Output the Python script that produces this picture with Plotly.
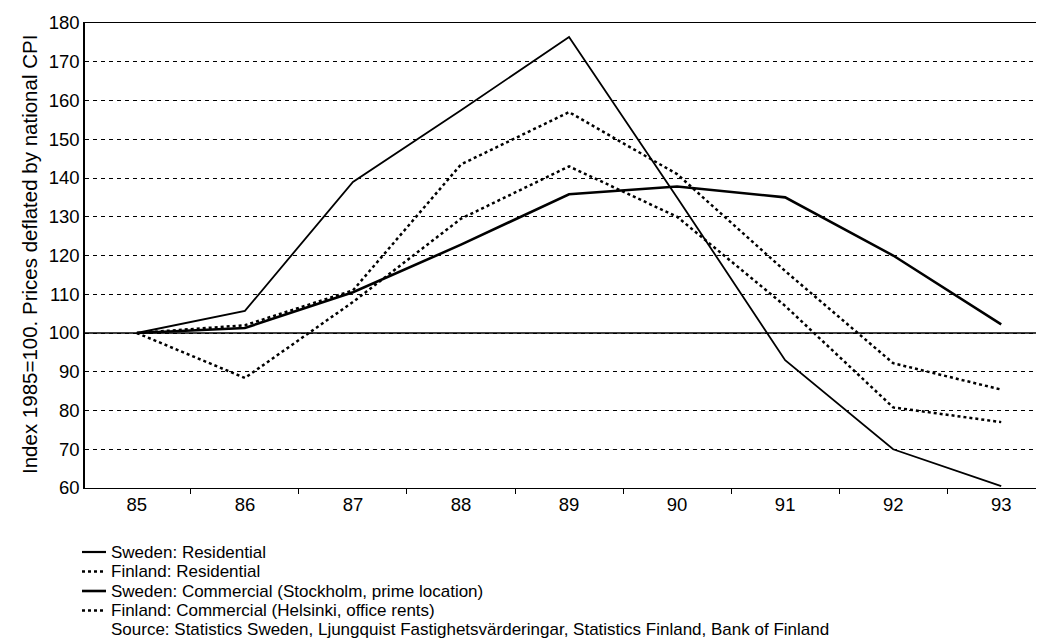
import plotly.graph_objects as go

years = ["85", "86", "87", "88", "89", "90", "91", "92", "93"]
sweden_residential = [100, 105.7, 139, 157.5, 176.4, 135, 93, 70, 60.5]
finland_residential = [100, 102, 111, 143.5, 157, 141, 116, 92.2, 85.4]
sweden_commercial = [100, 101.3, 110.5, 122.8, 135.8, 137.8, 135, 120, 102.2]
finland_commercial = [100, 88.4, 108, 129.5, 143, 130, 107, 80.8, 77]
y_ticks = list(range(60, 181, 10))
base_value = 100
series_names = [
    "Sweden: Residential",
    "Finland: Residential",
    "Sweden: Commercial (Stockholm, prime location)",
    "Finland: Commercial (Helsinki, office rents)",
]
source_text = ("Source: Statistics Sweden, Ljungquist Fastighetsvärderingar, "
               "Statistics Finland, Bank of Finland")
y_title = "Index 1985=100. Prices deflated by national CPI"

FONT = "Liberation Sans, Arial, Helvetica, sans-serif"

# layout geometry (pixels)
W, H = 1044, 638
L, R, T, B = 77, 0, 15, 158
PW, PH = W - L - R, H - T - B


def px_x(x):
    return (x - L) / PW


def px_y(y):
    return (H - B - y) / PH


fig = go.Figure()
styles = [("solid", 1.8), ("dot", 2.5), ("solid", 2.6), ("dot", 2.5)]
all_vals = [sweden_residential, finland_residential, sweden_commercial, finland_commercial]
for name, vals, (dash, w) in zip(series_names, all_vals, styles):
    fig.add_trace(go.Scatter(
        x=years, y=vals, mode="lines", name=name, showlegend=False,
        line=dict(color="black", width=w, dash=dash),
    ))

fig.update_layout(
    width=W, height=H,
    margin=dict(l=L, r=R, t=T, b=B, autoexpand=False),
    paper_bgcolor="white", plot_bgcolor="white",
    font=dict(family=FONT, color="black", size=18.5),
    showlegend=False,
)

fig.add_hline(y=base_value, line=dict(color="black", width=1.5), layer="below")

# manual legend
row_y = [544, 563.5, 583, 602.5]
for (dash, w), name, ry in zip(styles, series_names, row_y):
    fig.add_shape(
        type="line", xref="paper", yref="paper",
        x0=px_x(74), x1=px_x(98), y0=px_y(ry), y1=px_y(ry),
        line=dict(color="black", width=max(w, 2.2), dash=dash),
    )
    fig.add_annotation(
        text=name, xref="paper", yref="paper", x=px_x(101), y=px_y(ry),
        xanchor="left", yanchor="middle", showarrow=False,
        font=dict(family=FONT, size=17, color="black"),
    )
fig.add_annotation(
    text=source_text, xref="paper", yref="paper", x=px_x(101), y=px_y(621),
    xanchor="left", yanchor="middle", showarrow=False,
    font=dict(family=FONT, size=17, color="black"),
)
fig.add_annotation(
    text=y_title, xref="paper", yref="paper", x=px_x(21), y=px_y(247),
    xanchor="center", yanchor="middle", textangle=-90, showarrow=False,
    font=dict(family=FONT, size=20.5, color="black"),
)

fig.update_xaxes(
    type="category", range=[-0.48, 8.47], automargin=False,
    tickson="boundaries", ticks="outside", ticklen=5, tickcolor="black",
    showline=True, linecolor="black", linewidth=1, mirror=True,
    showgrid=False, tickfont=dict(size=18.5),
)
fig.update_yaxes(
    range=[60, 180], tickvals=y_ticks, ticks="", automargin=False,
    showline=True, linecolor="black", linewidth=1.5,
    showgrid=True, gridcolor="black", gridwidth=1, griddash="4px,4px",
    zeroline=False, tickfont=dict(size=18.5),
)

fig.write_html("out.html")
